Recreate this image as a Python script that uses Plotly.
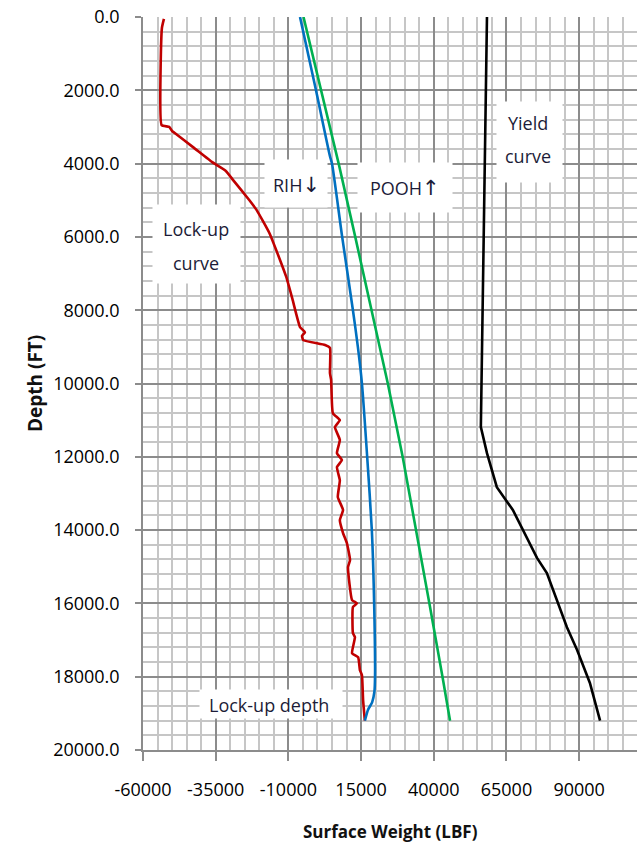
import plotly.graph_objects as go

# ---------------- data ----------------
depth_lockup = [50, 300, 2950, 3000, 3110, 3160, 3550, 3960, 4020, 4200, 4450, 5000, 5270,
                5900, 6500, 7100, 7700, 8460, 8600, 8700, 8815, 8950, 9030, 9720, 9900,
                10810, 11000, 11190, 11540, 11900, 12090, 12280, 12640, 13100, 13450, 13730,
                14080, 14350, 14820, 15010, 15910, 16000, 16100, 16810, 16920, 17360, 17470,
                17820, 17960, 18640, 19200]
force_lockup = [-52800, -53500, -53600, -51000, -50000, -49200, -42800, -36200, -35000,
                -31500, -29000, -23400, -20900, -16500, -13500, -10700, -8600, -6000, -4300,
                -5300, -4900, 2600, 4300, 4300, 4700, 5300, 7700, 6000, 7700, 6700, 8400,
                6700, 7700, 7000, 8800, 7700, 8800, 10100, 11200, 10500, 11900, 13600, 12200,
                12200, 12900, 11900, 14000, 14600, 15300, 15700, 16300]

depth_rih = [0, 2000, 3800, 4000, 6000, 8000, 9000, 10000, 12000, 14000, 16000, 18000,
             18400, 18700, 18900, 19200]
force_rih = [-6000, -500, 4300, 5000, 8500, 12200, 13900, 15300, 17100, 18700, 19500, 19800,
             19600, 18800, 17400, 16300]

depth_pooh = [0, 2000, 4000, 6000, 8000, 10000, 12000, 14000, 16000, 18000, 19200]
force_pooh = [-4800, 1300, 7300, 13000, 18700, 24200, 29300, 34000, 38500, 43000, 45600]

depth_yield = [0, 7180, 11190, 11900, 12830, 13450, 14760, 15170, 15910, 16650, 17270,
               18170, 19200]
force_yield = [58300, 56900, 56200, 58300, 61700, 67200, 75500, 78900, 82400, 85800,
               89300, 93700, 97200]

x_ticks = [-60000, -35000, -10000, 15000, 40000, 65000, 90000]
y_ticks = [0, 2000, 4000, 6000, 8000, 10000, 12000, 14000, 16000, 18000, 20000]

# ---------------- layout geometry ----------------
W, H = 637, 848
ML, MR, MT, MB = 143, 0, 17, 98
XMIN, XMAX = -60000, 109900
YMIN, YMAX = 0, 20000
PW, PH = W - ML - MR, H - MT - MB


def px_x(px):
    return XMIN + (px - ML) / PW * (XMAX - XMIN)


def px_y(py):
    return YMIN + (py - MT) / PH * (YMAX - YMIN)


fig = go.Figure()
lw = 2.6
fig.add_trace(go.Scatter(x=force_lockup, y=depth_lockup, mode="lines",
                         line=dict(color="#C00000", width=lw, shape="spline", smoothing=0.4),
                         name="Lock-up"))
fig.add_trace(go.Scatter(x=force_rih, y=depth_rih, mode="lines",
                         line=dict(color="#0070C0", width=lw, shape="spline", smoothing=0.6),
                         name="RIH"))
fig.add_trace(go.Scatter(x=force_pooh, y=depth_pooh, mode="lines",
                         line=dict(color="#00B050", width=lw), name="POOH"))
fig.add_trace(go.Scatter(x=force_yield, y=depth_yield, mode="lines",
                         line=dict(color="#000000", width=lw), name="Yield"))

tick_font = dict(family="Open Sans", size=18, color="#000000")
major_grid = "#8c8c8c"
minor_grid = "#c6c6c6"

fig.update_xaxes(
    range=[XMIN, XMAX], tickmode="array", tickvals=x_ticks,
    ticktext=[str(v) for v in x_ticks],
    showgrid=True, gridcolor=major_grid, gridwidth=1.5,
    minor=dict(tick0=-60000, dtick=5000, showgrid=True, gridcolor=minor_grid, gridwidth=1.7),
    showline=True, linecolor=major_grid, linewidth=1.5,
    ticks="outside", ticklen=9, tickcolor=major_grid, tickwidth=1.5,
    ticklabelstandoff=14, tickfont=tick_font, zeroline=False,
)
fig.update_yaxes(
    range=[YMAX, YMIN], tickmode="array", tickvals=y_ticks,
    ticktext=[f"{v:.1f}" for v in y_ticks],
    showgrid=True, gridcolor=major_grid, gridwidth=1.5,
    minor=dict(tick0=0, dtick=400, showgrid=True, gridcolor=minor_grid, gridwidth=1.7),
    showline=True, linecolor=major_grid, linewidth=1.5,
    ticks="outside", ticklen=6, tickcolor=major_grid, tickwidth=1.5,
    ticklabelstandoff=12, tickfont=tick_font, zeroline=False,
)

txt_font = dict(family="Open Sans", size=18, color="#1c1c38")
arrow = "<span style='font-family:DejaVu Sans;font-size:21px'>{}</span>"
# white label boxes (pixel extents) and their text lines (text, centre x px, centre y px)
boxes = [(153, 240, 205, 283), (265, 327, 160, 207), (358, 452, 163, 212),
         (497, 562, 102, 182), (200, 342, 690, 718)]
labels = [
    ("Lock-up", 196, 229), ("curve", 196, 263),
    ("RIH" + arrow.format("↓"), 296, 185),
    ("POOH" + arrow.format("↑"), 405, 188),
    ("Yield", 528, 123), ("curve", 528, 156),
    ("Lock-up depth", 269, 705),
]
for x0, x1, y0, y1 in boxes:
    fig.add_annotation(
        x=px_x((x0 + x1) / 2), y=px_y((y0 + y1) / 2), xref="x", yref="y",
        text="&nbsp;", showarrow=False, xanchor="center", yanchor="middle",
        width=x1 - x0, height=y1 - y0, bgcolor="white", borderpad=0,
        font=dict(size=10),
    )
for text, cx, cy in labels:
    fig.add_annotation(
        x=px_x(cx), y=px_y(cy), xref="x", yref="y", text=text, showarrow=False,
        xanchor="center", yanchor="middle", font=txt_font,
    )

title_font = dict(family="Open Sans", size=17, color="#111111")
fig.add_annotation(text="<b>Surface Weight (LBF)</b>", xref="paper", yref="paper",
                   x=(390 - ML) / PW, y=(H - MB - 832) / PH, showarrow=False,
                   xanchor="center", yanchor="middle", font=title_font)
fig.add_annotation(text="<b>Depth (FT)</b>", xref="paper", yref="paper",
                   x=(35 - ML) / PW, y=(H - MB - 384) / PH, showarrow=False,
                   textangle=-90, xanchor="center", yanchor="middle",
                   font=dict(family="Open Sans", size=19, color="#111111"))

fig.update_layout(
    width=W, height=H, margin=dict(l=ML, r=MR, t=MT, b=MB),
    paper_bgcolor="white", plot_bgcolor="white", showlegend=False,
)
fig.write_html("out.html")
